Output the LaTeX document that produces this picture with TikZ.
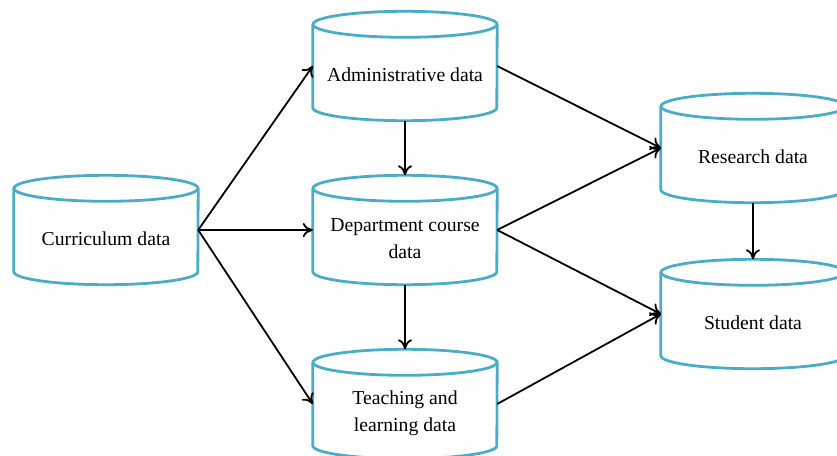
\documentclass[tikz,border=0pt]{standalone}
\usepackage{fontspec}
\setmainfont{Liberation Serif}
\usetikzlibrary{arrows.meta}
\definecolor{storeblue}{RGB}{75,172,198}

\begin{document}
\begin{tikzpicture}[x=1pt,y=1pt,
  store/.style={minimum width=184pt, minimum height=109pt, inner sep=0pt},
  storetext/.style={font=\fontsize{19.7}{27}\selectfont, align=center, yshift=-9pt},
  storeline/.style={draw=storeblue, line width=2.8pt},
  flow/.style={-{Computer Modern Rightarrow[length=10pt,width=14pt]}, line width=1.8pt}]
  \useasboundingbox (0,0) rectangle (837,-455);
  % data stores
  \node[store, label={[storetext]center:Curriculum data}] (curr) at (106,-230) {};
  \node[store, label={[storetext]center:Administrative data}] (admin) at (405,-66) {};
  \node[store, label={[storetext]center:{Department course\\data}}] (dept) at (405,-230) {};
  \node[store, label={[storetext]center:{Teaching and\\learning data}}] (teach) at (405,-404) {};
  \node[store, label={[storetext]center:Research data}] (res) at (753,-148) {};
  \node[store, label={[storetext]center:Student data}] (stud) at (753,-314) {};
  % cylinder outlines
  \foreach \s in {curr,admin,dept,teach,res,stud}{
    \draw[storeline] ([yshift=-13pt]\s.north) ellipse [x radius=92pt, y radius=13pt];
    \draw[storeline] ([yshift=-13pt]\s.north west) -- ([yshift=13pt]\s.south west)
      arc[start angle=180, end angle=360, x radius=92pt, y radius=13pt]
      -- ([yshift=-13pt]\s.north east);
  }
  % flows
  \draw[flow] (curr.east) -- (admin.west);
  \draw[flow] (curr.east) -- (dept.west);
  \draw[flow] (curr.east) -- (teach.west);
  \draw[flow] (admin.south) -- (dept.north);
  \draw[flow] (dept.south) -- (teach.north);
  \draw[flow] (admin.east) -- (res.west);
  \draw[flow] (dept.east) -- (res.west);
  \draw[flow] (dept.east) -- (stud.west);
  \draw[flow] (teach.east) -- (stud.west);
  \draw[flow] (res.south) -- (stud.north);
\end{tikzpicture}
\end{document}
